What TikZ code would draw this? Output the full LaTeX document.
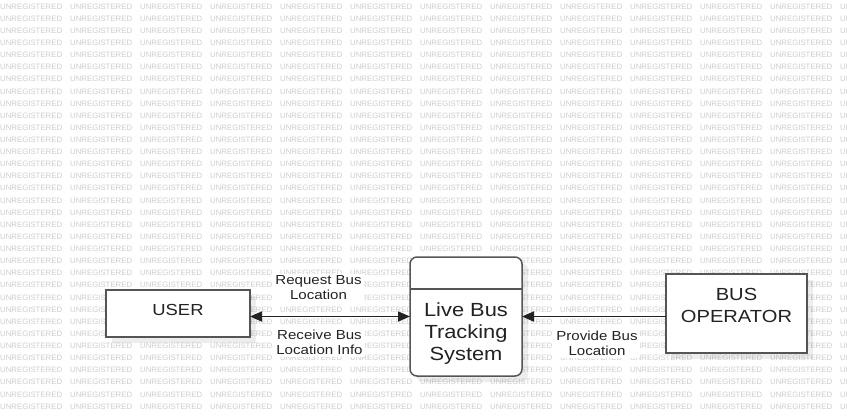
\documentclass[tikz,border=0pt]{standalone}
\usepackage{fontspec}
\setmainfont{Liberation Sans}[FakeStretch=1.15]
\newfontfamily\wmfont{Liberation Sans}
\usepackage{tikz}
\usetikzlibrary{arrows.meta,positioning,calc,shadows}
\definecolor{wmgray}  {RGB}{205,205,205}
\definecolor{edgegray}{RGB}{85,85,85}
\definecolor{txtgray} {RGB}{34,34,34}
\tikzset{
  mainbox/.style={draw=edgegray, line width=1.5pt, fill=white, align=center,
                  text=txtgray, inner sep=2pt, outer sep=0pt,
                  drop shadow={shadow xshift=6pt, shadow yshift=-6pt,
                               fill=black, opacity=0.07}},
  userbox/.style ={mainbox, minimum width=144pt, minimum height=47pt,
                   text depth=8pt, font=\fontsize{16}{18}\selectfont},
  opbox/.style   ={mainbox, minimum width=141pt, minimum height=79pt,
                   text depth=16pt, font=\fontsize{17.5}{22.3}\selectfont},
  procbox/.style ={mainbox, rounded corners=7pt,
                   minimum width=112pt, minimum height=119pt},
  proctext/.style={align=center, text=txtgray, inner sep=0pt,
                   font=\fontsize{19}{22}\selectfont},
  divline/.style ={draw=edgegray, line width=1.5pt},
  lbl/.style     ={fill=white, align=center, text=txtgray, inner sep=2pt,
                   font=\fontsize{13.1}{15}\selectfont},
  wmark/.style   ={anchor=west, inner sep=0pt, text=wmgray,
                   font=\wmfont\fontsize{7.8}{8}\selectfont},
  arr/.style     ={-{Triangle[length=12pt,width=10pt]}, line width=1.7pt, draw=txtgray},
  darr/.style    ={{Triangle[length=12pt,width=10pt]}-{Triangle[length=12pt,width=10pt]},
                   line width=1.7pt, draw=txtgray},
}

\begin{document}
\begin{tikzpicture}[x=1pt,y=-1pt]
  % background with watermark
  \fill[white] (0,0) rectangle (847,416);
  \useasboundingbox (0,0) rectangle (847,416);
  \foreach \r in {0,...,33}
    \foreach \c in {0,...,12}
      \node[wmark] (wm-\r-\c) at (\c*70, 6.5+\r*12.12) {UNREGISTERED};
  % entities and process
  \node[userbox] (user) at (178,313.5) {USER};
  \node[procbox, right=160pt of user, yshift=-3pt] (lbts) {};
  \node[opbox, right=144pt of lbts, yshift=3pt] (busop) {BUS\\OPERATOR};
  \node[proctext] (lbtsname) at ([yshift=-17pt]lbts.center) {Live Bus\\Tracking\\System};
  \draw[divline] ([yshift=-32pt]lbts.north west) -- ([yshift=-32pt]lbts.north east);
  % data flows
  \draw[darr] (user.east |- lbts.west) -- (lbts.west);
  \draw[arr] (busop.west |- lbts.east) -- (lbts.east);
  \node[lbl] (req) at (318.5,288) {Request Bus\\Location};
  \node[lbl] (rcv) at (319.5,342.5) {Receive Bus\\Location Info};
  \node[lbl] (prov) at (597,343.5) {Provide Bus\\Location};
\end{tikzpicture}
\end{document}
